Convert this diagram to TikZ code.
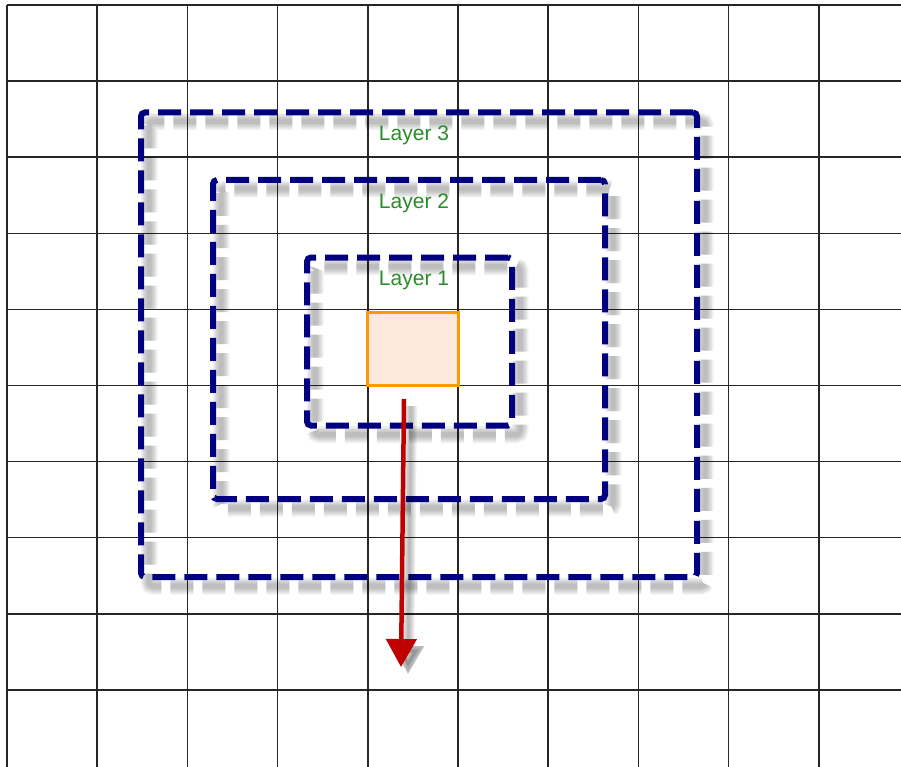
\documentclass[tikz,border=0pt]{standalone}
\usepackage{fontspec}
\setmainfont{Liberation Sans}
\usetikzlibrary{arrows.meta}
\definecolor{layerblue}{HTML}{000080}
\definecolor{labelgreen}{HTML}{2A8C2A}
\definecolor{coreorange}{HTML}{FF9900}
\definecolor{corefill}{HTML}{FCE9DC}
\definecolor{arrowred}{HTML}{C00000}
\begin{document}
\begin{tikzpicture}[x=1pt,y=-1pt,
  gridline/.style={draw=black!85, line width=1.5pt},
  layerbox/.style={draw=layerblue, line width=6pt, dash pattern=on 23pt off 9pt, rounded corners=4pt, outer sep=0pt, inner sep=0pt},
  shadowline/.style={draw=black, line width=#1, dash pattern=on 23pt off 9pt, rounded corners=4pt, opacity=0.055},
  corebox/.style={draw=coreorange, fill=corefill, line width=2.5pt, outer sep=0pt, inner sep=0pt},
  lbl/.style={text=labelgreen, font=\fontsize{21}{25}\selectfont, inner sep=0pt},
  arrowline/.style={draw=arrowred, line width=4.5pt, -{Triangle[length=28pt,width=30pt]}},
  arrowshadow/.style={draw=black, opacity=0.07, line width=#1, -{Triangle[length=28pt,width=30pt]}}
]
\useasboundingbox (0,0) rectangle (901,767);
\fill[white] (0,0) rectangle (901,767);
% grid
\foreach \i in {0,...,9} { \draw[gridline] ({7+90.2*\i},5) -- ({7+90.2*\i},767); }
\foreach \j in {0,...,9} { \draw[gridline] (7,{5+76.1*\j}) -- (901,{5+76.1*\j}); }
% shadows of the layers
\foreach \cx/\cy/\w/\h in {419/344.75/556/464.5, 409/339.5/392/319, 409.5/341.5/205/168} {
  \foreach \lw in {17,14,11,8,5} {
    \draw[shadowline=\lw pt] ({\cx-\w/2+8},{\cy-\h/2+9}) rectangle ({\cx+\w/2+8},{\cy+\h/2+9});
  }
}
% layers
\node[layerbox, minimum width=556pt, minimum height=464.5pt] (l3) at (419,344.75) {};
\node[layerbox, minimum width=392pt, minimum height=319pt] (l2) at (409,339.5) {};
\node[layerbox, minimum width=205pt, minimum height=168pt] (l1) at (409.5,341.5) {};
% core cell
\node[corebox, minimum width=91pt, minimum height=73pt] (core) at (413,349) {};
% labels
\node[lbl] (t3) at (414,135) {Layer 3};
\node[lbl] (t2) at (414,203) {Layer 2};
\node[lbl] (t1) at (414,280) {Layer 1};
% arrow
\coordinate (as) at (404,399);
\coordinate (ae) at (401,667);
\coordinate (ass) at (411,406);
\coordinate (aes) at (408,674);
\foreach \lw in {12,9,6,3} { \draw[arrowshadow=\lw pt] (ass) -- (aes); }
\draw[arrowline] (as) -- (ae);
\end{tikzpicture}
\end{document}
